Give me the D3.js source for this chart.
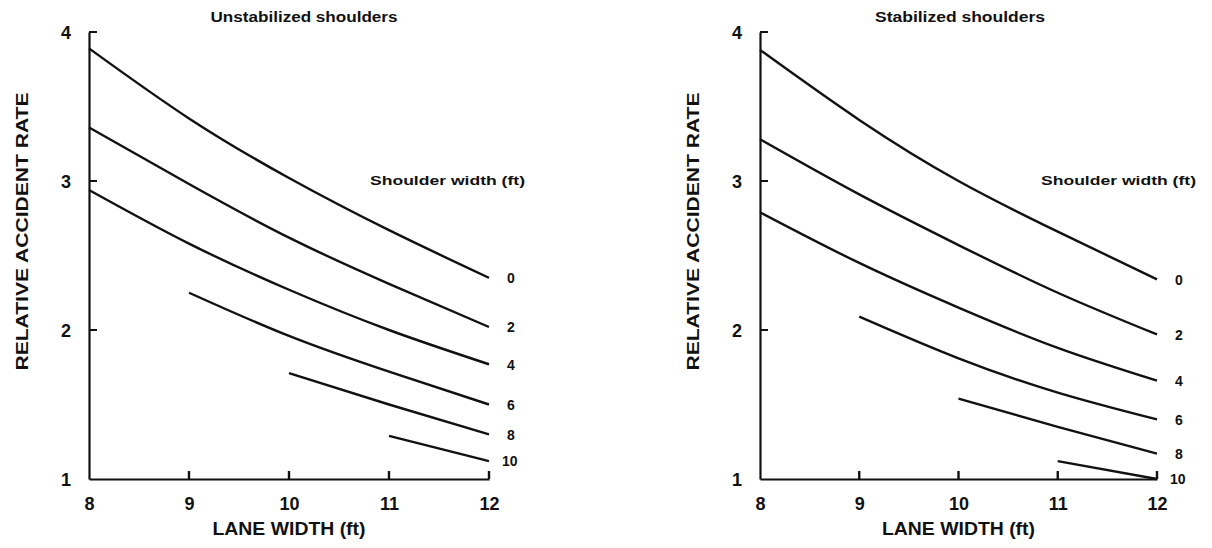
<!DOCTYPE html>
<html>
<head>
<meta charset="utf-8">
<script src="https://cdn.jsdelivr.net/npm/d3@7"></script>
<style>
  body { margin: 0; background: #fff; }
  svg { display: block; }
  text { font-family: "Liberation Sans", Arial, Helvetica, sans-serif; font-weight: bold; fill: #111; }
</style>
</head>
<body>
<div id="chart"></div>
<script>
// Lane widths (ft) on the x axis, shoulder widths (ft) for each curve
const laneWidths = [8, 9, 10, 11, 12];
const shoulderWidths = [0, 2, 4, 6, 8, 10];
const yTicks = [1, 2, 3, 4];

// Relative accident rate per shoulder width, read at each lane width (null = no curve)
const unstabilized = [
  [3.89, 3.42, 3.02, 2.67, 2.35],
  [3.36, 2.98, 2.62, 2.31, 2.02],
  [2.94, 2.58, 2.27, 2.00, 1.77],
  [null, 2.25, 1.96, 1.72, 1.50],
  [null, null, 1.71, 1.50, 1.30],
  [null, null, null, 1.29, 1.12]
];
const stabilized = [
  [3.88, 3.41, 3.00, 2.66, 2.34],
  [3.28, 2.91, 2.57, 2.25, 1.97],
  [2.79, 2.45, 2.15, 1.88, 1.66],
  [null, 2.09, 1.81, 1.58, 1.40],
  [null, null, 1.54, 1.35, 1.17],
  [null, null, null, 1.12, 1.00]
];

const svg = d3.select('#chart').append('svg')
  .attr('width', 1212)
  .attr('height', 548);

class ShoulderPanel {
  constructor(_config, _data) {
    this.config = {
      left: _config.left,
      top: 32,
      width: _config.width,
      height: 447,
      title: _config.title,
      titleX: _config.titleX
    };
    this.data = _data;
    this.initVis();
  }

  initVis() {
    let vis = this;
    const c = vis.config;

    vis.xScale = d3.scaleLinear().domain([8, 12]).range([0, c.width]);
    vis.yScale = d3.scaleLinear().domain([1, 4]).range([c.height, 0]);

    vis.g = svg.append('g')
      .attr('transform', `translate(${c.left},${c.top})`);

    vis.xAxis = d3.axisBottom(vis.xScale)
      .tickValues(laneWidths)
      .tickSize(0)
      .tickPadding(24)
      .tickFormat(d3.format('d'));

    vis.yAxis = d3.axisLeft(vis.yScale)
      .tickValues(yTicks)
      .tickSize(0)
      .tickPadding(18)
      .tickFormat(d3.format('d'));

    vis.xAxisG = vis.g.append('g')
      .attr('transform', `translate(0,${c.height})`)
      .call(vis.xAxis);
    vis.xAxisG.selectAll('text').attr('font-size', 18).attr('dy', '0.4em');

    vis.yAxisG = vis.g.append('g').call(vis.yAxis);
    vis.yAxisG.selectAll('text').attr('font-size', 18).attr('dy', '0.38em');

    vis.g.selectAll('.domain').attr('stroke', '#111').attr('stroke-width', 2.2);
    vis.g.selectAll('.tick text').attr('fill', '#111').style('font-family', '"Liberation Sans", Arial, sans-serif');

    // inward tick stubs
    vis.g.selectAll('.xstub')
      .data(laneWidths.filter(d => d !== 8))
      .join('line')
      .attr('class', 'xstub')
      .attr('x1', d => vis.xScale(d))
      .attr('x2', d => vis.xScale(d))
      .attr('y1', c.height)
      .attr('y2', c.height - 8)
      .attr('stroke', '#111')
      .attr('stroke-width', 2.4);

    vis.g.selectAll('.ystub')
      .data(yTicks.filter(d => d !== 1))
      .join('line')
      .attr('class', 'ystub')
      .attr('x1', 0)
      .attr('x2', 8)
      .attr('y1', d => vis.yScale(d))
      .attr('y2', d => vis.yScale(d))
      .attr('stroke', '#111')
      .attr('stroke-width', 2);

    // titles
    svg.append('text')
      .attr('x', c.titleX)
      .attr('y', 22)
      .attr('text-anchor', 'middle')
      .attr('font-size', 14)
      .attr('textLength', c.title.length * 8.5)
      .attr('lengthAdjust', 'spacingAndGlyphs')
      .text(c.title);

    vis.g.append('text')
      .attr('x', c.width / 2)
      .attr('y', 503)
      .attr('text-anchor', 'middle')
      .attr('font-size', 18)
      .attr('textLength', 153)
      .attr('lengthAdjust', 'spacingAndGlyphs')
      .text('LANE WIDTH (ft)');

    vis.g.append('text')
      .attr('transform', `translate(-61,${c.height / 2 - 24}) rotate(-90)`)
      .attr('text-anchor', 'middle')
      .attr('font-size', 17)
      .attr('textLength', 278)
      .attr('lengthAdjust', 'spacingAndGlyphs')
      .text('RELATIVE ACCIDENT RATE');

    vis.g.append('text')
      .attr('x', 281)
      .attr('y', 153)
      .attr('font-size', 13)
      .attr('textLength', 155)
      .attr('lengthAdjust', 'spacingAndGlyphs')
      .text('Shoulder width (ft)');

    vis.updateVis();
  }

  updateVis() {
    let vis = this;
    vis.series = vis.data.map((vals, i) => ({
      shoulder: shoulderWidths[i],
      points: laneWidths.map((x, j) => ({x: x, y: vals[j]})).filter(p => p.y !== null)
    }));
    vis.line = d3.line()
      .x(d => vis.xScale(d.x))
      .y(d => vis.yScale(d.y))
      .curve(d3.curveNatural);
    vis.renderVis();
  }

  renderVis() {
    let vis = this;
    vis.g.selectAll('.curve')
      .data(vis.series)
      .join('path')
      .attr('class', 'curve')
      .attr('d', d => vis.line(d.points))
      .attr('fill', 'none')
      .attr('stroke', '#111')
      .attr('stroke-width', 2.4);

    vis.g.selectAll('.curve-label')
      .data(vis.series)
      .join('text')
      .attr('class', 'curve-label')
      .attr('x', d => vis.config.width + (d.shoulder === 10 ? 13 : 18))
      .attr('y', d => vis.yScale(d.points[d.points.length - 1].y))
      .attr('dy', '0.38em')
      .attr('font-size', 14)
      .text(d => d.shoulder);
  }
}

new ShoulderPanel({left: 89, width: 400, title: 'Unstabilized shoulders', titleX: 304}, unstabilized);
new ShoulderPanel({left: 760, width: 397, title: 'Stabilized shoulders', titleX: 960}, stabilized);
</script>
</body>
</html>
